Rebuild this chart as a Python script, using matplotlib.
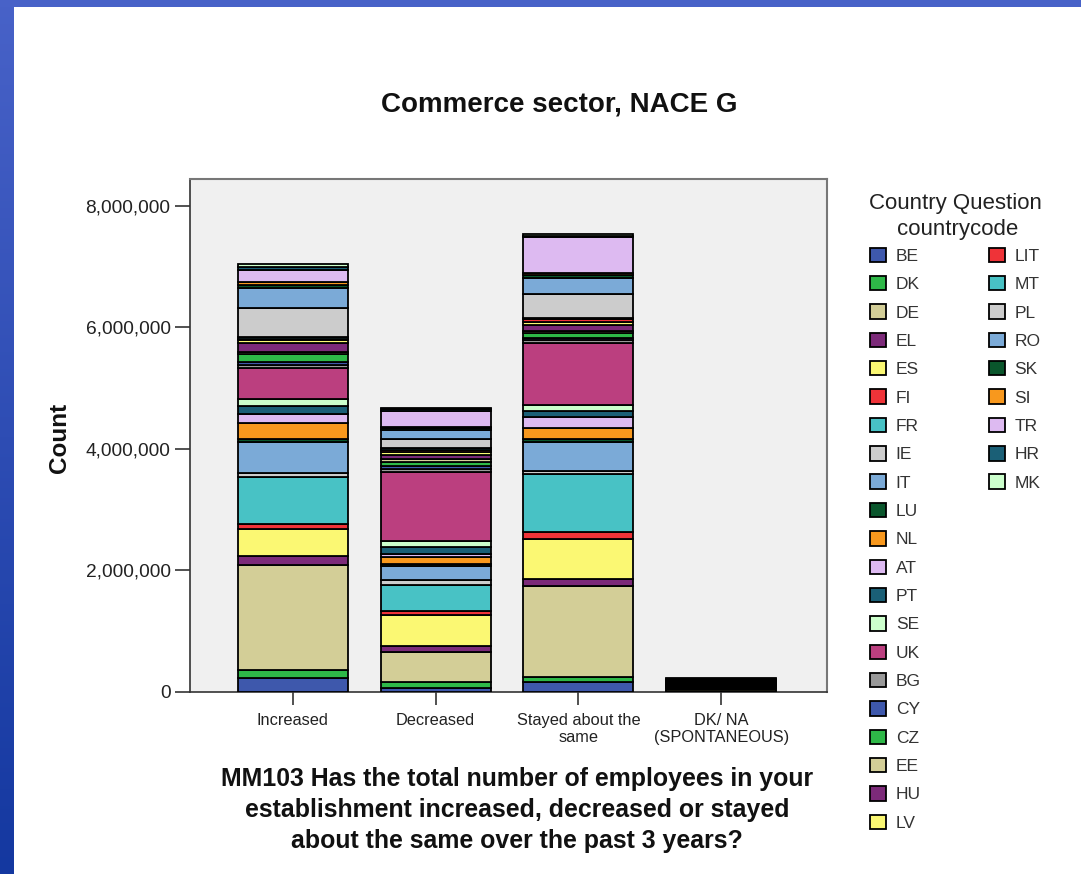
import matplotlib
matplotlib.use("Agg")
import matplotlib.pyplot as plt
import numpy as np
from matplotlib.patches import Rectangle
from matplotlib.ticker import FuncFormatter, FixedLocator
from matplotlib.colors import LinearSegmentedColormap

plt.rcParams['font.family'] = ['Liberation Sans', 'DejaVu Sans']

categories = ["Increased", "Decreased", "Stayed about the\nsame", "DK/ NA\n(SPONTANEOUS)"]

countries = ["BE", "DK", "DE", "EL", "ES", "FI", "FR", "IE", "IT", "LU", "NL", "AT", "PT", "SE", "UK",
             "BG", "CY", "CZ", "EE", "HU", "LV", "LIT", "MT", "PL", "RO", "SK", "SI", "TR", "HR", "MK"]

colors = ["#3E58AC", "#2EB848", "#D3CE97", "#7C2A79", "#FBF873", "#EF3338", "#48C2C5", "#CCCCCC",
          "#7BAAD7", "#0A562C", "#F8981D", "#DDBAF1", "#1A5F76", "#CCFFCC", "#BB3F7F",
          "#999999", "#3E58AC", "#2EB848", "#D3CE97", "#7C2A79", "#FBF873", "#EF3338", "#48C2C5",
          "#CCCCCC", "#7BAAD7", "#0A562C", "#F8981D", "#DDBAF1", "#1A5F76", "#CCFFCC"]

# values in millions of employees, per country, for each answer category
increased = [0.225, 0.13, 1.74, 0.15, 0.43, 0.09, 0.77, 0.07, 0.51, 0.04, 0.27, 0.15, 0.13, 0.12, 0.50,
             0.05, 0.05, 0.14, 0.03, 0.15, 0.04, 0.03, 0.03, 0.48, 0.32, 0.05, 0.05, 0.19, 0.05, 0.05]
decreased = [0.07, 0.09, 0.50, 0.10, 0.50, 0.07, 0.43, 0.08, 0.23, 0.04, 0.11, 0.05, 0.11, 0.11, 1.13,
             0.05, 0.04, 0.08, 0.04, 0.07, 0.05, 0.03, 0.03, 0.16, 0.14, 0.03, 0.02, 0.27, 0.02, 0.02]
stayed = [0.16, 0.09, 1.49, 0.12, 0.66, 0.11, 0.96, 0.05, 0.48, 0.04, 0.19, 0.17, 0.11, 0.10, 1.01,
          0.05, 0.04, 0.08, 0.03, 0.09, 0.05, 0.05, 0.03, 0.39, 0.26, 0.05, 0.04, 0.59, 0.02, 0.03]
dkna = [0.008, 0.004, 0.03, 0.006, 0.012, 0.004, 0.02, 0.004, 0.015, 0.002, 0.008, 0.004, 0.004, 0.004, 0.02,
        0.004, 0.002, 0.006, 0.002, 0.006, 0.002, 0.004, 0.002, 0.015, 0.012, 0.004, 0.004, 0.012, 0.002, 0.002]

W, H = 1081, 874
fig = plt.figure(figsize=(W / 100, H / 100), dpi=100)
fig.patch.set_facecolor("white")

# blue slide frame
axl = fig.add_axes([0, 0, 14 / W, 1])
grad = np.linspace(0, 1, 256).reshape(-1, 1)
cm = LinearSegmentedColormap.from_list("bl", ["#4862C8", "#1438A0"])
axl.imshow(grad, aspect="auto", cmap=cm, extent=[0, 1, 0, 1], origin="upper")
axl.set_axis_off()
axt = fig.add_axes([0, 1 - 7 / H, 1, 7 / H])
axt.set_facecolor("#4862C8")
axt.set_xticks([]); axt.set_yticks([])
for s in axt.spines.values():
    s.set_visible(False)

ax = fig.add_axes([190 / W, 1 - 692 / H, (827 - 190) / W, (692 - 179) / H])
ax.set_facecolor("#F0F0F0")

data = np.array([increased, decreased, stayed, dkna]) * 1e6
x = np.arange(len(categories))
bottom = np.zeros(len(categories))
handles = []
for i, c in enumerate(countries):
    b = ax.bar(x, data[:, i], 0.77, bottom=bottom, color=colors[i], edgecolor="black",
               linewidth=1.3, label=c, zorder=3)
    handles.append(b)
    bottom += data[:, i]

ax.set_xlim(-0.72, 3.74)
ax.set_ylim(0, 8.44e6)
ax.yaxis.set_major_locator(FixedLocator([0, 2e6, 4e6, 6e6, 8e6]))
ax.yaxis.set_major_formatter(FuncFormatter(lambda v, p: f"{v:,.0f}"))
ax.set_xticks(x)
ax.set_xticklabels(categories, fontsize=11.8, color="#222222", linespacing=1.15)
ax.tick_params(axis="y", length=11, width=1.2, color="#333333", labelsize=13.8, pad=3, labelcolor="#222222")
ax.tick_params(axis="x", length=9, width=1.2, color="#333333", pad=6)
for s in ["top", "right"]:
    ax.spines[s].set_color("#777777")
    ax.spines[s].set_linewidth(1.5)
ax.spines["left"].set_color("#333333")
ax.spines["bottom"].set_color("#333333")
ax.spines["left"].set_linewidth(1.2)
ax.spines["bottom"].set_linewidth(1.2)

fig.text(559 / W, 1 - 104 / H, "Commerce sector, NACE G", ha="center", va="center",
         fontsize=20, fontweight="bold", color="#111111")
fig.text(60 / W, 1 - 438 / H, "Count", ha="center", va="center", rotation=90,
         fontsize=17.5, fontweight="bold", color="#111111")
fig.text(517 / W, 1 - 810 / H,
         "MM103 Has the total number of employees in your\n"
         "establishment increased, decreased or stayed\n"
         "about the same over the past 3 years?",
         ha="center", va="center", fontsize=17.9, fontweight="bold", color="#111111",
         linespacing=1.36)

# legend title
fig.text(955 / W, 1 - 203 / H, "Country Question", ha="center", va="center",
         fontsize=16, color="#222222")
fig.text(958 / W, 1 - 230 / H, "countrycode", ha="center", va="center",
         fontsize=16, color="#222222")

blank = [Rectangle((0, 0), 1, 1, visible=False) for _ in range(12)]
leg_handles = handles[:21] + handles[21:] + blank
leg_labels = countries[:21] + countries[21:] + [""] * 12
leg = fig.legend(leg_handles, leg_labels, ncol=2, loc="upper left",
                 bbox_to_anchor=(861 / W, 1 - 239 / H), frameon=False,
                 prop={"size": 12.5},
                 handlelength=0.95, handleheight=0.9,
                 handletextpad=0.55, labelspacing=0.7, columnspacing=3.9, borderpad=0)
for t in leg.get_texts():
    t.set_color("#333333")

fig.savefig("out.png", dpi=100)
